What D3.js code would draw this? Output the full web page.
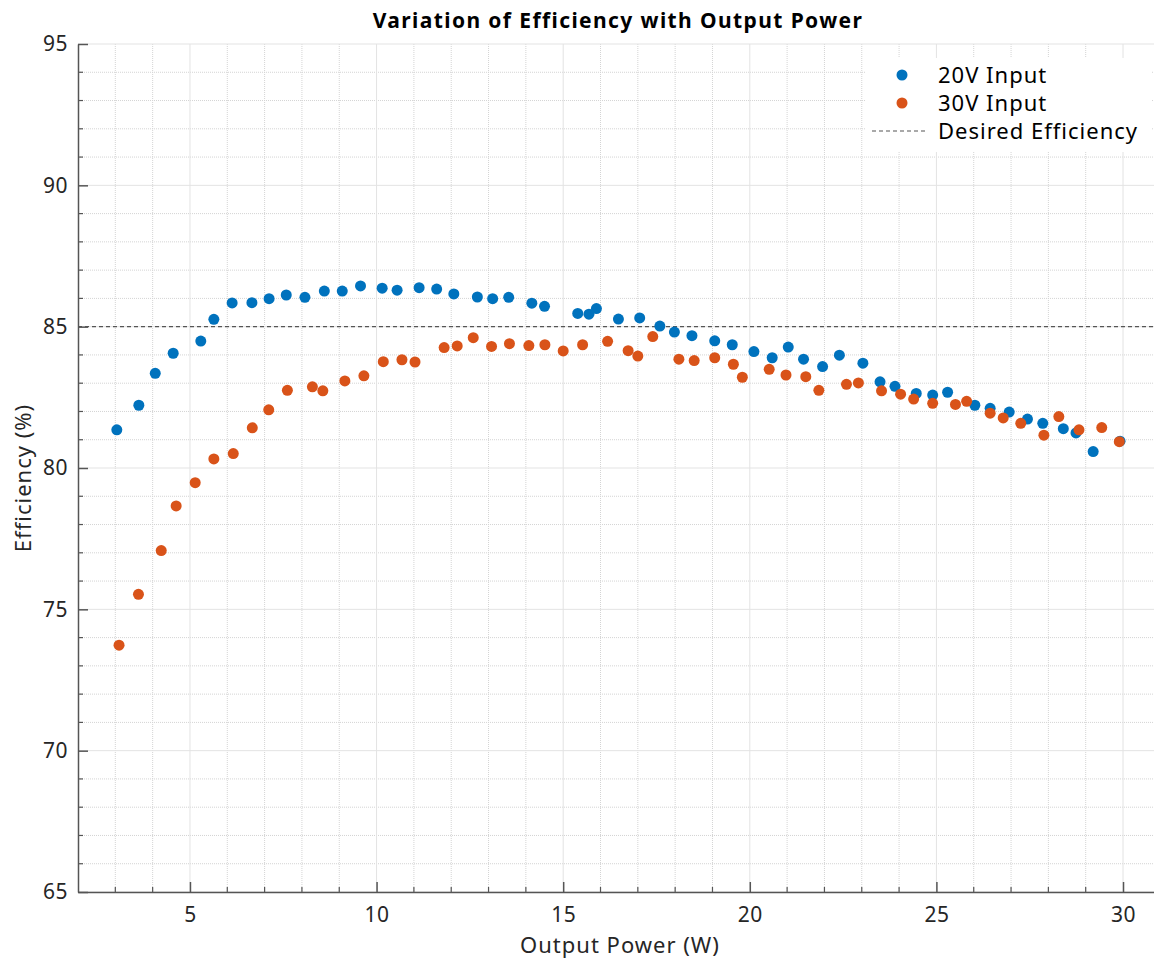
<!DOCTYPE html>
<html>
<head>
<meta charset="utf-8">
<script src="https://cdn.jsdelivr.net/npm/d3@7"></script>
<style>
  body { margin: 0; background: #fff; }
  text { font-family: "Noto Sans", "Open Sans", sans-serif; fill: #262626; }
</style>
</head>
<body>
<div id="plot"></div>
<script>
// 20V input series
var power20 = [3.04, 3.63, 4.07, 4.55, 5.29, 5.64, 6.13, 6.66, 7.12, 7.58, 8.08, 8.60, 9.08, 9.57,
  10.15, 10.55, 11.14, 11.61, 12.07, 12.70, 13.11, 13.54, 14.16, 14.50, 15.39, 15.69, 15.89,
  16.48, 17.05, 17.59, 17.98, 18.45, 19.06, 19.53, 20.11, 20.60, 21.03, 21.44, 21.95, 22.40,
  23.03, 23.49, 23.89, 24.46, 24.90, 25.30, 26.03, 26.44, 26.95, 27.44, 27.85, 28.40, 28.74,
  29.20, 29.92];
var eff20 = [81.35, 82.22, 83.35, 84.06, 84.49, 85.26, 85.84, 85.85, 85.99, 86.12, 86.04, 86.26, 86.26, 86.44,
  86.36, 86.29, 86.38, 86.33, 86.16, 86.05, 85.99, 86.04, 85.83, 85.72, 85.47, 85.44, 85.64,
  85.27, 85.31, 85.02, 84.81, 84.68, 84.50, 84.36, 84.12, 83.90, 84.28, 83.85, 83.59, 83.99,
  83.71, 83.05, 82.89, 82.64, 82.58, 82.68, 82.22, 82.11, 81.98, 81.73, 81.58, 81.39, 81.24,
  80.58, 80.95];

// 30V input series
var power30 = [3.10, 3.62, 4.23, 4.63, 5.14, 5.64, 6.16, 6.67, 7.11, 7.61, 8.28, 8.56, 9.15, 9.66,
  10.18, 10.68, 11.03, 11.81, 12.16, 12.59, 13.08, 13.56, 14.08, 14.51, 15.00, 15.52, 16.19,
  16.74, 17.00, 17.40, 18.10, 18.51, 19.06, 19.56, 19.80, 20.52, 20.97, 21.50, 21.85, 22.59,
  22.91, 23.53, 24.04, 24.39, 24.90, 25.51, 25.81, 26.44, 26.79, 27.26, 27.88, 28.28, 28.82,
  29.43, 29.90];
var eff30 = [73.73, 75.53, 77.08, 78.66, 79.48, 80.32, 80.51, 81.42, 82.06, 82.75, 82.87, 82.73, 83.08, 83.26,
  83.76, 83.83, 83.75, 84.26, 84.32, 84.61, 84.30, 84.40, 84.33, 84.36, 84.14, 84.36, 84.48,
  84.15, 83.96, 84.65, 83.85, 83.80, 83.90, 83.67, 83.21, 83.49, 83.29, 83.23, 82.75, 82.96,
  83.01, 82.73, 82.61, 82.44, 82.29, 82.25, 82.36, 81.94, 81.77, 81.58, 81.16, 81.82, 81.35,
  81.43, 80.93];

var desiredEff = 85;
var xTicks = [5, 10, 15, 20, 25, 30];
var yTicks = [65, 70, 75, 80, 85, 90, 95];
var seriesNames = ["20V Input", "30V Input", "Desired Efficiency"];

var blue = "#0072BD", orange = "#D95319";

var W = 1154, H = 960;
var margin = {top: 44, right: 0, bottom: 68, left: 78};
var width = W - margin.left - margin.right,
  height = H - margin.top - margin.bottom;

var xScale = d3.scaleLinear().domain([2, 30.83]).range([0, width]);
var yScale = d3.scaleLinear().domain([65, 95]).range([height, 0]);

var svg = d3.select("#plot").append("svg")
  .attr("width", W)
  .attr("height", H);

var g = svg.append("g")
  .attr("transform", "translate(" + margin.left + "," + margin.top + ")");

// minor grid (dotted)
var xMinor = d3.range(3, 31, 1).filter(function (d) { return d % 5 !== 0; });
var yMinor = d3.range(66, 95, 1).filter(function (d) { return d % 5 !== 0; });

g.append("g").selectAll("line").data(xMinor).enter().append("line")
  .attr("x1", function (d) { return xScale(d); })
  .attr("x2", function (d) { return xScale(d); })
  .attr("y1", 0).attr("y2", height)
  .attr("stroke", "#d4d4d4").attr("stroke-width", 1).attr("stroke-dasharray", "1,1");

g.append("g").selectAll("line").data(yMinor).enter().append("line")
  .attr("y1", function (d) { return yScale(d); })
  .attr("y2", function (d) { return yScale(d); })
  .attr("x1", 0).attr("x2", width)
  .attr("stroke", "#d4d4d4").attr("stroke-width", 1).attr("stroke-dasharray", "1,1");

// major grid
g.append("g").selectAll("line").data(xTicks).enter().append("line")
  .attr("x1", function (d) { return xScale(d); })
  .attr("x2", function (d) { return xScale(d); })
  .attr("y1", 0).attr("y2", height)
  .attr("stroke", "#e3e3e3").attr("stroke-width", 1);

g.append("g").selectAll("line").data(yTicks).enter().append("line")
  .attr("y1", function (d) { return yScale(d); })
  .attr("y2", function (d) { return yScale(d); })
  .attr("x1", 0).attr("x2", width)
  .attr("stroke", "#e3e3e3").attr("stroke-width", 1);

// axes
var xAxis = d3.axisBottom(xScale).tickValues(xTicks).tickSize(-10).tickPadding(15).tickSizeOuter(0);
var yAxis = d3.axisLeft(yScale).tickValues(yTicks).tickSize(-10).tickPadding(10).tickSizeOuter(0);

var gx = g.append("g")
  .attr("transform", "translate(0," + height + ")")
  .call(xAxis);
var gy = g.append("g").call(yAxis);

[gx, gy].forEach(function (ax) {
  ax.select(".domain").attr("stroke", "#555").attr("stroke-width", 1.5);
  ax.selectAll(".tick line").attr("stroke", "#555").attr("stroke-width", 1.5);
  ax.selectAll(".tick text").attr("font-size", 21).attr("fill", "#262626")
    .style("font-family", "\"Noto Sans\", sans-serif")
    .style("letter-spacing", "0.5px");
});

// minor ticks
g.append("g").selectAll("line").data(xMinor).enter().append("line")
  .attr("x1", function (d) { return xScale(d); })
  .attr("x2", function (d) { return xScale(d); })
  .attr("y1", height).attr("y2", height - 5)
  .attr("stroke", "#555").attr("stroke-width", 1.2);
g.append("g").selectAll("line").data(yMinor).enter().append("line")
  .attr("y1", function (d) { return yScale(d); })
  .attr("y2", function (d) { return yScale(d); })
  .attr("x1", 0).attr("x2", 5)
  .attr("stroke", "#555").attr("stroke-width", 1.2);

// desired efficiency line
g.append("line")
  .attr("x1", 0).attr("x2", width)
  .attr("y1", yScale(desiredEff)).attr("y2", yScale(desiredEff))
  .attr("stroke", "#555").attr("stroke-width", 1.2).attr("stroke-dasharray", "4,3");

// points
var pts20 = power20.map(function (p, i) { return {x: p, y: eff20[i]}; });
var pts30 = power30.map(function (p, i) { return {x: p, y: eff30[i]}; });

g.append("g").selectAll("circle").data(pts20).enter().append("circle")
  .attr("cx", function (d) { return xScale(d.x); })
  .attr("cy", function (d) { return yScale(d.y); })
  .attr("r", 5.5).attr("fill", blue);

g.append("g").selectAll("circle").data(pts30).enter().append("circle")
  .attr("cx", function (d) { return xScale(d.x); })
  .attr("cy", function (d) { return yScale(d.y); })
  .attr("r", 5.5).attr("fill", orange);

// labels
svg.append("text")
  .attr("x", 618).attr("y", 28)
  .attr("text-anchor", "middle")
  .attr("font-size", 21).attr("font-weight", "bold").style("fill", "#000")
  .style("letter-spacing", "1.4px")
  .text("Variation of Efficiency with Output Power");

svg.append("text")
  .attr("x", 620).attr("y", 953)
  .attr("text-anchor", "middle")
  .attr("font-size", 22)
  .style("letter-spacing", "1px")
  .text("Output Power (W)");

svg.append("text")
  .attr("transform", "translate(31," + (margin.top + height / 2 + 10) + ") rotate(-90)")
  .attr("text-anchor", "middle")
  .attr("font-size", 22)
  .style("letter-spacing", "1px")
  .text("Efficiency (%)");

// legend
var legend = svg.append("g").attr("transform", "translate(866,58)");
legend.append("rect")
  .attr("x", 0).attr("y", 0).attr("width", 285).attr("height", 94)
  .attr("fill", "#fff");
var rowY = [17, 45, 73];
legend.append("circle").attr("cx", 36).attr("cy", rowY[0]).attr("r", 5.5).attr("fill", blue);
legend.append("circle").attr("cx", 36).attr("cy", rowY[1]).attr("r", 5.5).attr("fill", orange);
legend.append("line")
  .attr("x1", 6).attr("x2", 62).attr("y1", rowY[2]).attr("y2", rowY[2])
  .attr("stroke", "#555").attr("stroke-width", 1.2).attr("stroke-dasharray", "4,3");
legend.selectAll("text.lbl").data(seriesNames).enter().append("text")
  .attr("class", "lbl")
  .attr("x", 72)
  .attr("y", function (d, i) { return rowY[i]; })
  .attr("dy", "0.35em")
  .attr("font-size", 22)
  .style("letter-spacing", "1px")
  .style("fill", "#000")
  .text(function (d) { return d; });
</script>
</body>
</html>
